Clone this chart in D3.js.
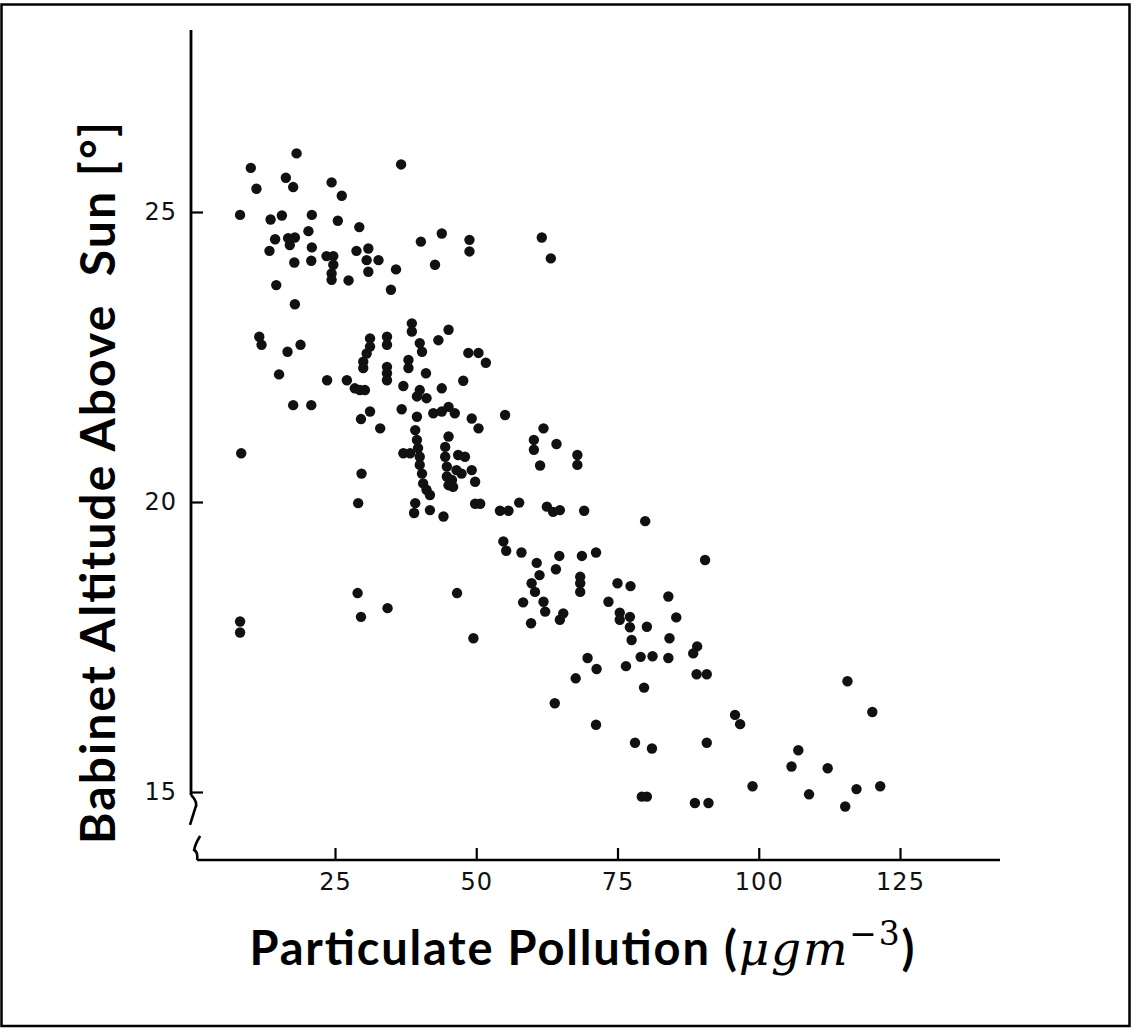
<!DOCTYPE html>
<html>
<head>
<meta charset="utf-8">
<script src="https://cdn.jsdelivr.net/npm/d3@7"></script>
<style>
  html, body { margin: 0; padding: 0; background: #fff; }
  svg { display: block; }
  .tick text { font-family: "DejaVu Sans", sans-serif; }
</style>
</head>
<body>
<svg id="chart" width="1132" height="1028"></svg>
<script>
// ---------------- data ----------------
const pollution = [
  18.2,10.1,36.7,16.3,17.6,11.1,24.4,26.2,8.2,13.6,15.6,20.9,25.5,29.3,20.3,14.4,16.7,17.9,17.0,13.4,
  20.9,23.5,24.7,24.7,24.4,24.4,20.8,17.8,28.8,30.9,30.6,32.7,30.9,27.4,35.8,34.9,14.6,17.9,40.2,38.6,
  43.9,48.8,48.8,42.7,61.6,63.2,45.1,11.6,12.0,16.6,18.9,15.1,23.6,27.1,28.5,29.4,30.3,17.6,20.8,29.6,
  31.2,33.0,36.8,37.1,8.4,29.7,29.1,38.6,31.2,31.2,30.6,30.0,30.0,34.2,34.2,34.2,34.2,34.2,38.0,38.0,
  39.5,39.5,37.1,38.3,39.2,39.0,40.0,40.4,43.3,48.6,50.4,51.7,41.1,47.7,43.9,40.0,41.2,42.4,43.9,45.1,
  46.2,49.2,50.4,55.1,39.2,39.5,39.7,40.0,40.0,45.1,44.5,44.5,44.8,44.8,45.1,46.8,48.0,46.5,47.4,49.2,
  49.8,45.7,45.9,40.4,40.6,41.2,41.8,41.8,44.2,49.8,50.7,54.2,55.7,57.6,62.5,63.6,64.8,69.1,61.9,60.2,
  60.2,64.2,61.3,67.9,67.9,79.9,54.8,55.3,58.0,60.7,64.7,68.7,71.2,64.1,61.2,59.8,60.4,58.3,61.9,62.2,
  68.4,68.4,68.4,75.0,77.3,73.4,75.4,75.4,77.2,77.2,77.5,80.2,59.7,64.8,65.4,49.5,90.5,84.0,85.4,84.2,
  79.1,81.2,84.0,89.1,88.4,69.7,71.3,76.5,67.6,79.7,89.0,90.8,63.9,71.2,78.1,81.1,90.8,95.8,96.7,115.7,
  120.1,107.0,105.8,112.2,98.9,108.9,117.3,121.5,115.3,80.2,79.3,88.7,91.1,8.2,8.2,29.0,29.6,34.3,46.6
];
const altitude = [
  26.01,25.76,25.82,25.59,25.43,25.40,25.51,25.28,24.95,24.87,24.94,24.95,24.85,24.74,24.67,24.53,24.55,24.56,24.43,24.33,
  24.39,24.24,24.24,24.09,23.94,23.83,24.16,24.13,24.33,24.37,24.17,24.17,23.97,23.82,24.01,23.66,23.74,23.41,24.49,23.08,
  24.63,24.52,24.32,24.09,24.56,24.20,22.97,22.85,22.71,22.59,22.71,22.20,22.10,22.10,21.96,21.93,21.93,21.67,21.67,21.43,
  21.56,21.27,21.60,22.00,20.84,20.49,19.98,22.94,22.82,22.68,22.56,22.42,22.31,22.85,22.71,22.33,22.22,22.10,22.45,22.31,
  21.82,21.47,20.84,20.84,19.98,19.81,22.74,22.59,22.79,22.57,22.57,22.40,22.22,22.09,21.96,21.93,21.79,21.53,21.56,21.64,
  21.53,21.44,21.27,21.50,21.24,21.07,20.93,20.78,20.64,21.13,20.95,20.78,20.61,20.44,20.29,20.81,20.78,20.55,20.49,20.55,
  20.35,20.38,20.26,20.49,20.32,20.21,20.12,19.86,19.75,19.97,19.97,19.85,19.85,19.99,19.92,19.83,19.86,19.85,21.27,21.07,
  20.90,21.00,20.63,20.81,20.64,19.67,19.32,19.16,19.13,18.95,19.07,19.07,19.13,18.84,18.74,18.60,18.45,18.27,18.28,18.11,
  18.71,18.60,18.45,18.60,18.55,18.28,18.09,17.97,18.02,17.84,17.62,17.85,17.91,17.97,18.08,17.65,19.00,18.37,18.01,17.65,
  17.33,17.34,17.31,17.51,17.39,17.31,17.12,17.17,16.96,16.80,17.03,17.03,16.53,16.16,15.85,15.75,15.85,16.33,16.17,16.91,
  16.38,15.72,15.44,15.41,15.10,14.96,15.05,15.10,14.75,14.92,14.92,14.81,14.81,17.94,17.75,18.43,18.02,18.17,18.43
];
const xTickValues = [25, 50, 75, 100, 125];
const yTickValues = [15, 20, 25];
const xAxisExtent = [0.6, 142.7];   // drawn length of the x axis, in data units
const yAxisExtent = [14.95, 28.14]; // drawn length of the y axis, in data units

// ---------------- drawing ----------------
const svg = d3.select("#chart");
const W = 1132, H = 1028;

svg.append("rect").attr("x", 0).attr("y", 0).attr("width", W).attr("height", H).attr("fill", "#fff");
// figure frame
svg.append("rect").attr("x", 1.5).attr("y", 4.5).attr("width", 1128).attr("height", 1021.5)
   .attr("fill", "none").attr("stroke", "#000").attr("stroke-width", 2.5);

const x = d3.scaleLinear().domain([0, 125]).range([193.75, 900]);
const y = d3.scaleLinear().domain([15, 25]).range([792, 212]);

const axisY = 860, axisX = 191;

// x axis
const gx = svg.append("g").attr("transform", `translate(0,${axisY})`)
  .call(d3.axisBottom(x).tickValues(xTickValues).tickSizeInner(-12).tickSizeOuter(0).tickPadding(13));
gx.select(".domain").remove();
gx.append("line").attr("x1", x(xAxisExtent[0])).attr("x2", x(xAxisExtent[1]))
  .attr("y1", 0).attr("y2", 0).attr("stroke", "#000").attr("stroke-width", 2.6);
gx.selectAll(".tick line").attr("stroke", "#000").attr("stroke-width", 2.2);
gx.selectAll(".tick text").attr("font-size", 24).attr("fill", "#111").attr("letter-spacing", 1);

// y axis
const gy = svg.append("g").attr("transform", `translate(${axisX},0)`)
  .call(d3.axisLeft(y).tickValues(yTickValues).tickSizeInner(-12).tickSizeOuter(0).tickPadding(14));
gy.select(".domain").remove();
gy.append("line").attr("x1", 0).attr("x2", 0)
  .attr("y1", y(yAxisExtent[1])).attr("y2", y(yAxisExtent[0])).attr("stroke", "#000").attr("stroke-width", 2.8);
gy.selectAll(".tick line").attr("stroke", "#000").attr("stroke-width", 2.2);
gy.selectAll(".tick text").attr("font-size", 24).attr("fill", "#111").attr("letter-spacing", 1);

// axis break marks
svg.append("path")
  .attr("d", `M${axisX},${y(yAxisExtent[0])} Q${axisX+8},${y(yAxisExtent[0])+8} ${axisX+4},${y(yAxisExtent[0])+14} L${axisX-1},${y(yAxisExtent[0])+30}`)
  .attr("fill", "none").attr("stroke", "#000").attr("stroke-width", 2.6);
svg.append("path")
  .attr("d", `M${x(xAxisExtent[0])+3},${axisY-24} Q${x(xAxisExtent[0])-2},${axisY-16} ${x(xAxisExtent[0])-3},${axisY-10} Q${x(xAxisExtent[0])+1},${axisY-8} ${x(xAxisExtent[0])},${axisY}`)
  .attr("fill", "none").attr("stroke", "#000").attr("stroke-width", 2.6);

// points
svg.append("g").selectAll("circle")
  .data(d3.range(pollution.length))
  .join("circle")
  .attr("cx", i => x(pollution[i]))
  .attr("cy", i => y(altitude[i]))
  .attr("r", 5.2)
  .attr("fill", "#111");

// x title
const xt = svg.append("text").attr("x", 582).attr("y", 965).attr("text-anchor", "middle")
  .attr("font-size", 47).attr("fill", "#000")
  .attr("textLength", 665).attr("lengthAdjust", "spacing");
xt.append("tspan").attr("font-family", "Lato, 'Open Sans', sans-serif").attr("font-weight", 700).text("Particulate Pollution (");
xt.append("tspan").attr("font-family", "'DejaVu Serif', 'Liberation Serif', serif").attr("font-style", "italic").text("μgm");
xt.append("tspan").attr("font-family", "'DejaVu Serif', 'Liberation Serif', serif").attr("font-size", 33).attr("dy", -20).text("−3");
xt.append("tspan").attr("font-family", "Lato, 'Open Sans', sans-serif").attr("font-weight", 700).attr("dy", 20).text(")");

// y title
svg.append("text")
  .attr("transform", "translate(115,483) rotate(-90)")
  .attr("text-anchor", "middle")
  .attr("font-family", "Lato, 'Open Sans', sans-serif").attr("font-weight", 700)
  .attr("font-size", 48).attr("fill", "#000")
  .attr("textLength", 722).attr("lengthAdjust", "spacing")
  .style("white-space", "pre")
  .text("Babinet Altitude Above  Sun [°]");
</script>
</body>
</html>
